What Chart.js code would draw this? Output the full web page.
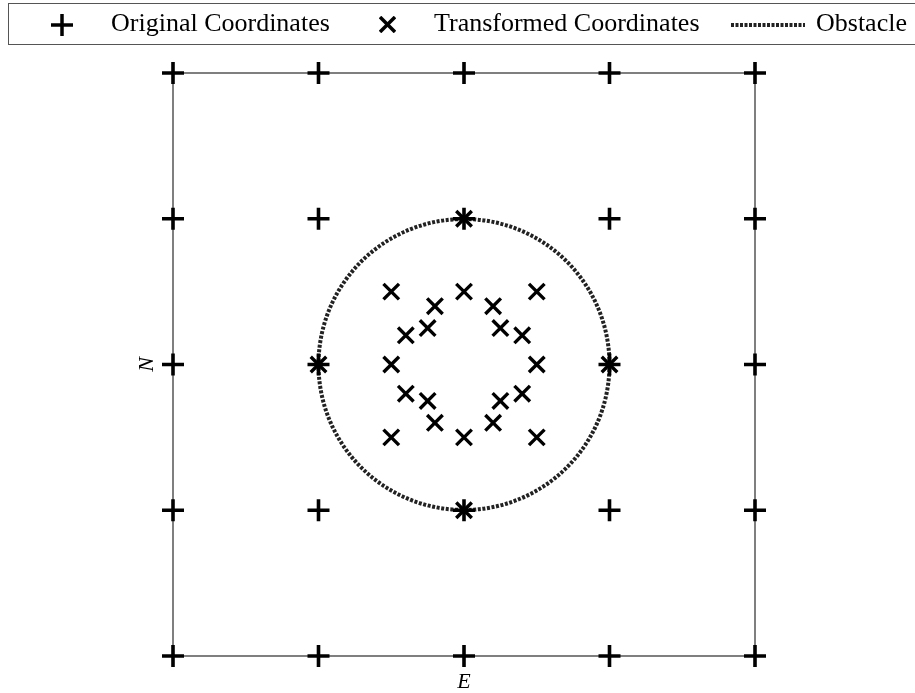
<!DOCTYPE html>
<html>
<head>
<meta charset="utf-8">
<script src="https://cdn.jsdelivr.net/npm/chart.js@4/dist/chart.umd.min.js"></script>
<style>
  html, body { margin: 0; padding: 0; background: #fff; }
  #wrap { position: relative; width: 915px; height: 693px; }
  #legend {
    position: absolute; left: 8px; top: 3px; width: 920px; height: 42px;
    border: 1.5px solid #555; box-sizing: border-box;
    font-family: "Liberation Serif", "Times New Roman", serif; font-size: 26px; color: #000;
  }
  #legend .txt { position: absolute; top: 6px; line-height: 26px; white-space: nowrap; }
  #legend svg { position: absolute; }
</style>
</head>
<body>
<div id="wrap">
  <canvas id="grid" width="915" height="693"></canvas>
  <div id="legend">
    <svg style="left:42px;top:10px" width="22" height="22">
      <line x1="11" y1="0" x2="11" y2="22" stroke="#000" stroke-width="3.5"/>
      <line x1="0" y1="11" x2="22" y2="11" stroke="#000" stroke-width="3.5"/>
    </svg>
    <span class="txt" style="left:102px">Original Coordinates</span>
    <svg style="left:370px;top:12px" width="17" height="17">
      <line x1="1" y1="1" x2="16" y2="16" stroke="#000" stroke-width="3.5"/>
      <line x1="16" y1="1" x2="1" y2="16" stroke="#000" stroke-width="3.5"/>
    </svg>
    <span class="txt" style="left:425px">Transformed Coordinates</span>
    <svg style="left:722px;top:18px" width="74" height="6">
      <line x1="0" y1="3" x2="74" y2="3" stroke="#222" stroke-width="4" stroke-dasharray="3 1.5"/>
    </svg>
    <span class="txt" style="left:807px">Obstacle</span>
  </div>
</div>
<script>
// grid points before the transform (E, N); the origin is left out
const origE = [-2, -1, 0, 1, 2,  -2, -1, 0, 1, 2,  -2, -1, 1, 2,  -2, -1, 0, 1, 2,  -2, -1, 0, 1, 2];
const origN = [ 2,  2, 2, 2, 2,   1,  1, 1, 1, 1,   0,  0, 0, 0,  -1, -1, -1, -1, -1, -2, -2, -2, -2, -2];

// same points after the transform
const transE = [-0.25, -0.2, 0, 0.2, 0.25,  -0.4, -0.5, 0, 0.5, 0.4,  -0.5, -1, 1, 0.5,  -0.4, -0.5, 0, 0.5, 0.4,  -0.25, -0.2, 0, 0.2, 0.25];
const transN = [ 0.25,  0.4, 0.5, 0.4, 0.25,  0.2, 0.5, 1, 0.5, 0.2,  0, 0, 0, 0,  -0.2, -0.5, -1, -0.5, -0.2,  -0.25, -0.4, -0.5, -0.4, -0.25];

// circular obstacle
const obstacleE = 0;
const obstacleN = 0;
const obstacleR = 1;

const axisMin = -2;
const axisMax = 2;

function toPoints(xs, ys) {
  return xs.map((x, i) => ({ x: x, y: ys[i] }));
}

// frame round the plot area + the obstacle ring, under the markers
const framePlugin = {
  id: 'frame',
  beforeDatasetsDraw(chart) {
    const { ctx, chartArea: a, scales } = chart;
    ctx.save();
    ctx.strokeStyle = '#555';
    ctx.lineWidth = 1.5;
    ctx.strokeRect(a.left, a.top, a.right - a.left, a.bottom - a.top);

    const cx = scales.x.getPixelForValue(obstacleE);
    const cy = scales.y.getPixelForValue(obstacleN);
    const r = scales.x.getPixelForValue(obstacleE + obstacleR) - cx;
    ctx.strokeStyle = '#222';
    ctx.lineWidth = 4;
    ctx.setLineDash([3, 1.6]);
    ctx.beginPath();
    ctx.arc(cx, cy, r, 0, Math.PI * 2);
    ctx.stroke();
    ctx.restore();
  }
};

const titleFont = { family: 'Liberation Serif', size: 22, style: 'italic', lineHeight: 1 };

new Chart(document.getElementById('grid'), {
  type: 'scatter',
  data: {
    datasets: [
      {
        label: 'Original Coordinates',
        data: toPoints(origE, origN),
        pointStyle: 'cross',
        pointRadius: 11,
        pointBorderWidth: 3.6,
        borderColor: '#000',
        backgroundColor: '#000',
        clip: false
      },
      {
        label: 'Transformed Coordinates',
        data: toPoints(transE, transN),
        pointStyle: 'crossRot',
        pointRadius: 11,
        pointBorderWidth: 3.4,
        borderColor: '#000',
        backgroundColor: '#000',
        clip: false
      }
    ]
  },
  options: {
    animation: false,
    responsive: false,
    events: [],
    layout: { padding: { top: 73, right: 160, left: 131, bottom: 0 } },
    scales: {
      x: {
        type: 'linear', min: axisMin, max: axisMax,
        ticks: { display: false },
        grid: { display: false },
        border: { display: false },
        title: { display: true, text: 'E', color: '#000', font: titleFont, padding: 0 },
        afterFit(s) { s.height = 37; }
      },
      y: {
        type: 'linear', min: axisMin, max: axisMax,
        ticks: { display: false },
        grid: { display: false },
        border: { display: false },
        title: { display: true, text: 'N', color: '#000', font: titleFont, padding: { top: 5, bottom: 0 } },
        afterFit(s) { s.width = 42; }
      }
    },
    plugins: {
      legend: { display: false },
      tooltip: { enabled: false }
    }
  },
  plugins: [framePlugin]
});
</script>
</body>
</html>
